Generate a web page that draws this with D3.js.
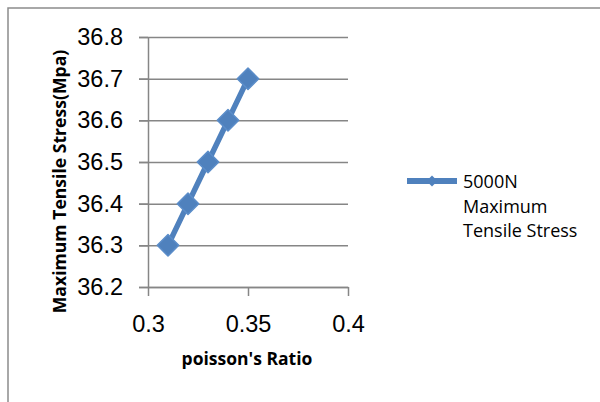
<!DOCTYPE html>
<html>
<head>
<meta charset="utf-8">
<title></title>
<script src="https://d3js.org/d3.v7.min.js"></script>
<style>
  body { margin: 0; background: #fff; }
  svg { display: block; font-family: "Open Sans", sans-serif; }
  .axis path, .axis line { stroke: #868686; stroke-width: 1.5; }
  .grid line { stroke: #868686; stroke-width: 1.5; }
  .grid path { display: none; }
</style>
</head>
<body>
<script>
const ratios = [0.31, 0.32, 0.33, 0.34, 0.35]
const stress = [36.3, 36.4, 36.5, 36.6, 36.7]
const xTicks = [0.3, 0.35, 0.4]
const yTicks = [36.2, 36.3, 36.4, 36.5, 36.6, 36.7, 36.8]
const seriesName = ["5000N", "Maximum", "Tensile Stress"]

const W = 600, H = 402
const plot = { left: 148, right: 348, top: 37, bottom: 287 }
const blue = "#4F81BD"

const svg = d3.select("body").append("svg")
  .attr("width", W).attr("height", H)

// chart frame (runs past the window on the right and bottom)
svg.append("path")
  .attr("d", `M8,${H} L8,8 L${W},8`)
  .attr("fill", "none")
  .attr("stroke", "#8c8c8c")
  .attr("stroke-width", 1.5)

const x = d3.scaleLinear().domain([0.3, 0.4]).range([plot.left, plot.right])
const y = d3.scaleLinear().domain([36.2, 36.8]).range([plot.bottom, plot.top])

// horizontal gridlines, poking out 9px to the left
svg.append("g")
  .attr("class", "grid")
  .attr("transform", `translate(${plot.right},0)`)
  .call(d3.axisLeft(y).tickValues(yTicks).tickSize(plot.right - plot.left + 9).tickFormat(""))

// y axis
svg.append("g")
  .attr("class", "axis")
  .attr("transform", `translate(${plot.left},0)`)
  .call(d3.axisLeft(y).tickValues(yTicks).tickSize(9).tickSizeOuter(0).tickPadding(16)
    .tickFormat(d3.format(".1f")))
  .call(g => g.selectAll("text").attr("font-size", "23.5px").attr("fill", "#000"))

// x axis
svg.append("g")
  .attr("class", "axis")
  .attr("transform", `translate(0,${plot.bottom})`)
  .call(d3.axisBottom(x).tickValues(xTicks).tickSize(9).tickSizeOuter(0).tickPadding(19)
    .tickFormat(d => String(d)))
  .call(g => g.selectAll("text").attr("font-size", "23.5px").attr("fill", "#000"))

// axis titles
svg.append("text")
  .attr("x", 247).attr("y", 365)
  .attr("text-anchor", "middle")
  .attr("font-size", "17.5px").attr("font-weight", "bold")
  .text("poisson's Ratio")

svg.append("text")
  .attr("transform", "translate(66,181.5) rotate(-90)")
  .attr("text-anchor", "middle")
  .attr("font-size", "17.6px").attr("font-weight", "bold")
  .text("Maximum Tensile Stress(Mpa)")

// series
const pts = ratios.map((r, i) => [r, stress[i]])

svg.append("path")
  .datum(pts)
  .attr("fill", "none")
  .attr("stroke", blue)
  .attr("stroke-width", 5.5)
  .attr("stroke-linejoin", "round")
  .attr("d", d3.line().x(d => x(d[0])).y(d => y(d[1])))

const diamond = d3.symbol(d3.symbolSquare, 230)
svg.append("g").selectAll("path")
  .data(pts)
  .enter()
  .append("path")
  .attr("d", diamond)
  .attr("transform", d => `translate(${x(d[0])},${y(d[1])}) rotate(45)`)
  .attr("fill", blue)
  .attr("stroke", "#5b8dc9")
  .attr("stroke-width", 1.5)
  .attr("stroke-linejoin", "round")

// legend
const lg = svg.append("g")
lg.append("line")
  .attr("x1", 407).attr("x2", 457).attr("y1", 181).attr("y2", 181)
  .attr("stroke", blue).attr("stroke-width", 6)
lg.append("path")
  .attr("d", d3.symbol(d3.symbolSquare, 60))
  .attr("transform", "translate(432,181) rotate(45)")
  .attr("fill", blue)

lg.selectAll("text")
  .data(seriesName)
  .enter()
  .append("text")
  .attr("x", 463)
  .attr("y", (d, i) => 188 + i * 24.5)
  .attr("font-size", "18px")
  .attr("fill", "#000")
  .text(d => d)
</script>
</body>
</html>
